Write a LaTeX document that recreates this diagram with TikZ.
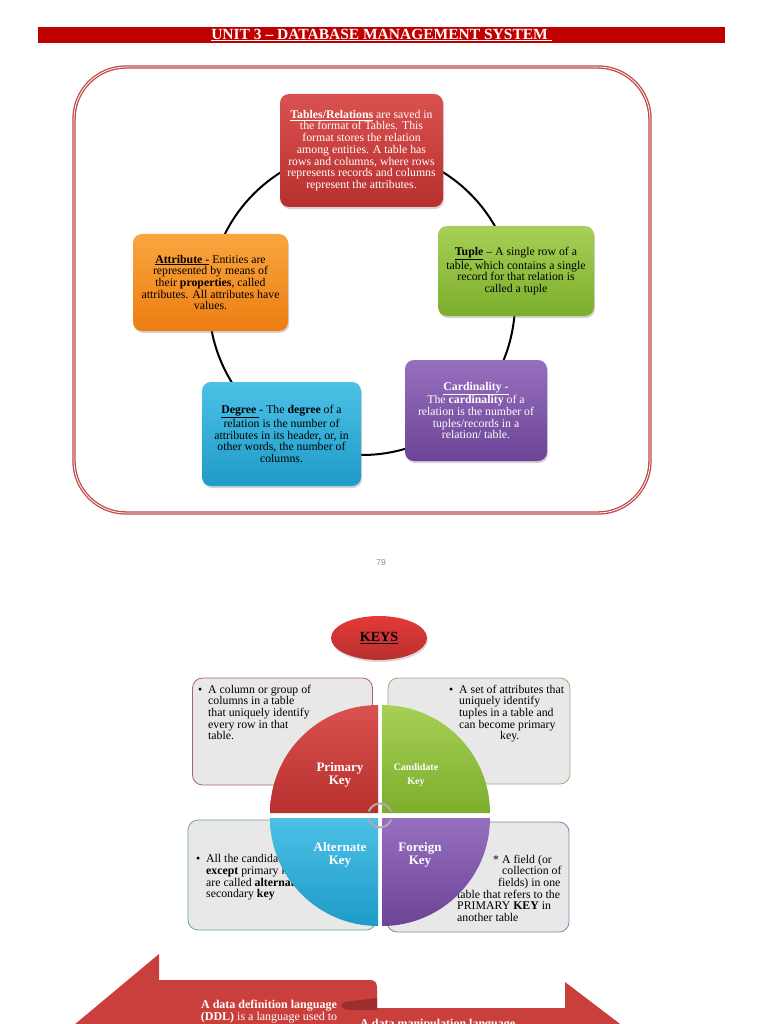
\documentclass[tikz,border=0pt]{standalone}
\usepackage{fontspec}
\setmainfont{Liberation Serif}
\setsansfont{Liberation Sans}
\usetikzlibrary{positioning,shapes.geometric,shadows}
\definecolor{unitred}{HTML}{C00000}
\definecolor{framered}{HTML}{C04848}
\definecolor{relA}{HTML}{D9524F}
\definecolor{relB}{HTML}{B8302E}
\definecolor{attA}{HTML}{F9A63E}
\definecolor{attB}{HTML}{EC7D12}
\definecolor{tupA}{HTML}{A6D056}
\definecolor{tupB}{HTML}{7CAE2C}
\definecolor{degA}{HTML}{4CC1E7}
\definecolor{degB}{HTML}{1E9BC7}
\definecolor{carA}{HTML}{9670BF}
\definecolor{carB}{HTML}{6C4396}
\definecolor{keygrey}{HTML}{E8E8E8}
\definecolor{pkedge}{HTML}{A86464}
\definecolor{ckedge}{HTML}{9CB07A}
\definecolor{akedge}{HTML}{6E9CB0}
\definecolor{fkedge}{HTML}{8A7AAE}
\definecolor{ringgrey}{HTML}{B4AAAA}
\definecolor{pageblue}{HTML}{6F8DC2}
\definecolor{arrowred}{HTML}{C93F3C}
\definecolor{foldred}{HTML}{9C2E2E}
\newcommand{\keybullet}{\makebox[10pt][l]{\textbullet}}
\newcommand{\keyindent}{\hspace*{10pt}}

\begin{document}
\begin{tikzpicture}[x=1pt,y=-1pt,
    cyclebox/.style={rounded corners=9pt,align=center,inner sep=2pt,
      font=\fontsize{11.8}{11.7}\selectfont,
      drop shadow={opacity=0.35,shadow xshift=1pt,shadow yshift=-2pt}},
    keybox/.style={rounded corners=10pt,fill=keygrey,line width=0.8pt,inner sep=0pt},
    keytext/.style={anchor=north west,align=left,inner sep=0pt,font=\fontsize{11.8}{11.7}\selectfont},
    keylabel/.style={text=white,align=center,inner sep=0pt,font=\bfseries\fontsize{13}{13.5}\selectfont}]
  \useasboundingbox (0,0) rectangle (768,1024);
  \clip (0,0) rectangle (768,1024);

  % page banner
  \node[fill=unitred,minimum width=687pt,minimum height=16pt,inner sep=0pt,text=white,
    font=\bfseries\fontsize{15.5}{15.5}\selectfont] (banner) at (381.5,35) {\underline{UNIT 3 -- DATABASE MANAGEMENT SYSTEM\ }};

  % relational model cycle
  \draw[framered,line width=1.3pt,double=white,double distance=0.8pt,rounded corners=52pt] (74,67) rectangle (650,513);
  \coordinate (ring) at (362,302);
  \draw[line width=2pt] (ring) circle[radius=153pt];

  \node[cyclebox,top color=relA,bottom color=relB,text=white,minimum width=163pt,minimum height=113pt] (relation) at (361.5,150.5)
    {\underline{\textbf{Tables/Relations}} are saved in\\the format of Tables. This\\format stores the relation\\among entities. A table has\\rows and columns, where rows\\represents records and columns\\represent the attributes.};
  \node[cyclebox,top color=tupA,bottom color=tupB,minimum width=156pt,minimum height=90pt] (tuple) at (516,271)
    {\underline{\textbf{Tuple}} -- A single row of a\\table, which contains a single\\record for that relation is\\called a tuple};
  \node[cyclebox,top color=carA,bottom color=carB,text=white,minimum width=142pt,minimum height=101pt] (cardinality) at (476,410.5)
    {\underline{\textbf{Cardinality -}}\\The \textbf{cardinality} of a\\relation is the number of\\tuples/records in a\\relation/ table.};
  \node[cyclebox,top color=degA,bottom color=degB,minimum width=159pt,minimum height=104pt] (degree) at (281.5,434)
    {\underline{\textbf{Degree }}- The \textbf{degree} of a\\relation is the number of\\attributes in its header, or, in\\other words, the number of\\columns.};
  \node[cyclebox,top color=attA,bottom color=attB,minimum width=155pt,minimum height=97pt] (attribute) at (210.5,282.5)
    {\underline{\textbf{Attribute -}} Entities are\\represented by means of\\their \textbf{properties}, called\\attributes. All attributes have\\values.};

  \node[text=pageblue,font=\sffamily\fontsize{8.5}{9}\selectfont] (pageno) at (381,563) {79};

  % keys
  \node[ellipse,top color=red!30!relA,bottom color=relB,minimum width=96pt,minimum height=44pt,
    drop shadow={opacity=0.3,shadow xshift=1pt,shadow yshift=-2pt},
    font=\bfseries\fontsize{14}{14}\selectfont] (keys) at (379,638) {\underline{KEYS}};

  \node[keybox,draw=pkedge,minimum width=180pt,minimum height=107pt] (pkbox) at (282.5,731.5) {};
  \node[keybox,draw=ckedge,minimum width=182pt,minimum height=106pt] (ckbox) at (479,731) {};
  \node[keybox,draw=akedge,minimum width=188pt,minimum height=110pt] (akbox) at (282,875) {};
  \node[keybox,draw=fkedge,minimum width=182pt,minimum height=110pt] (fkbox) at (478,877) {};

  \node[keytext] (pktext) at (198,684.5)
    {\keybullet A column or group of\\\keyindent columns in a table\\\keyindent that uniquely identify\\\keyindent every row in that\\\keyindent table.};
  \node[keytext] (cktext) at (449,684.5)
    {\keybullet A set of attributes that\\\keyindent uniquely identify\\\keyindent tuples in a table and\\\keyindent can become primary\\\hspace*{51pt}key.};
  \node[keytext] (aktext) at (196,854.5)
    {\keybullet All the candidate keys\\\keyindent\textbf{except} primary key\\\keyindent are called \textbf{alternate} or\\\keyindent secondary \textbf{key}};
  \node[keytext] (fktext) at (457,854.5)
    {\hspace*{36pt}* A field (or\\\hspace*{45pt}collection of\\\hspace*{41pt}fields) in one\\table that refers to the\\PRIMARY \textbf{KEY} in\\another table};

  \coordinate (hub) at (380,815.5);
  \shade[top color=relA,bottom color=relB] ([shift={(-2,-2.5)}]hub) -- ++(180:108pt) arc[start angle=180,end angle=90,radius=108pt] -- cycle;
  \shade[top color=tupA,bottom color=tupB] ([shift={(2,-2.5)}]hub) -- ++(0:108pt) arc[start angle=0,end angle=90,radius=108pt] -- cycle;
  \shade[top color=degA,bottom color=degB] ([shift={(-2,2.5)}]hub) -- ++(180:108pt) arc[start angle=180,end angle=270,radius=108pt] -- cycle;
  \shade[top color=carA,bottom color=carB] ([shift={(2,2.5)}]hub) -- ++(0:108pt) arc[start angle=0,end angle=-90,radius=108pt] -- cycle;
  \draw[ringgrey,line width=2pt] ([shift={(160:12pt)}]hub) arc[start angle=160,end angle=20,radius=12pt];
  \draw[ringgrey,line width=2pt] ([shift={(-20:12pt)}]hub) arc[start angle=-20,end angle=-160,radius=12pt];

  \node[keylabel] (primary) at (340,775) {Primary\\Key};
  \node[keylabel,font=\bfseries\fontsize{10}{13.5}\selectfont] (candidate) at (416,775) {Candidate\\Key};
  \node[keylabel] (alternate) at (340,855) {Alternate\\Key};
  \node[keylabel] (foreign) at (420,855) {Foreign\\Key};

  % languages
  \fill[arrowred] (159,954) -- (159,980) -- (369,980) .. controls (377,980) and (377,984) .. (377,990) -- (377,1030) -- (68,1030) -- cycle;
  \fill[arrowred] (345,1008) -- (565,1008) -- (565,982) -- (628,1030) -- (345,1030) -- cycle;
  \fill[foldred] (377,998) -- (377,1010) -- (352,1010) .. controls (338,1010) and (338,1001) .. (352,1001) -- cycle;
  \node[text=white,align=center,inner sep=0pt,font=\fontsize{12}{11.5}\selectfont] (ddl) at (269,1011.5)
    {\textbf{A data definition language}\\\textbf{(DDL)} is a language used to};
  \node[text=white,anchor=north west,inner sep=0pt,font=\bfseries\fontsize{12}{12}\selectfont] (dml) at (360,1019) {A data manipulation language};
\end{tikzpicture}
\end{document}
